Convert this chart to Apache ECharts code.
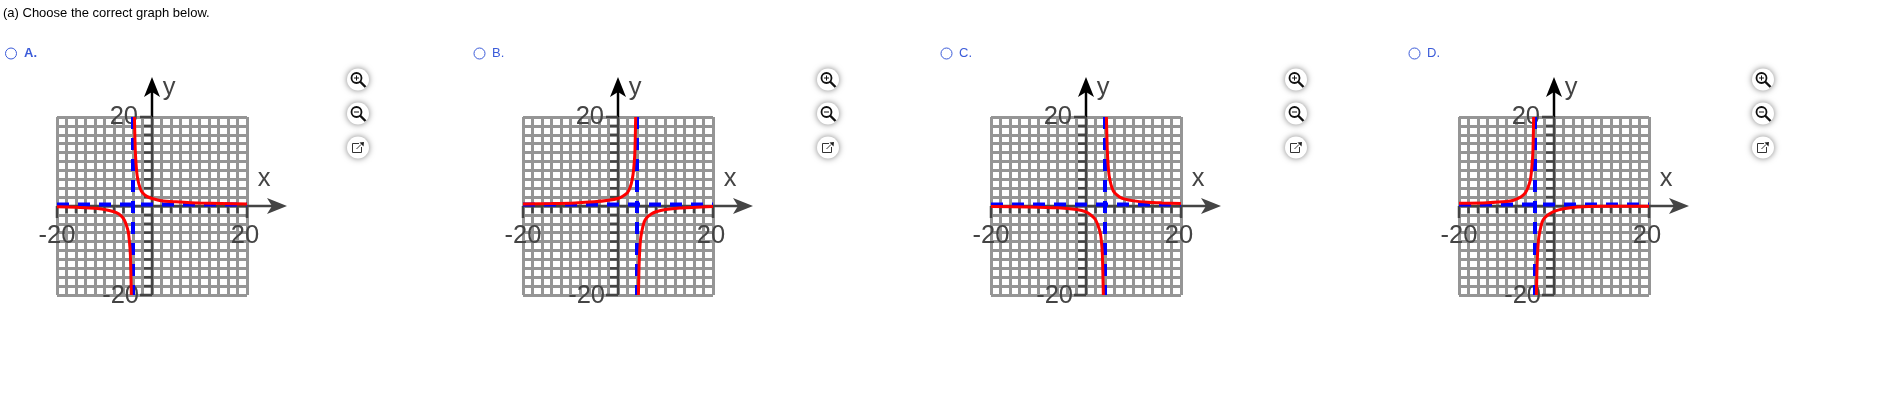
<!DOCTYPE html>
<html><head><meta charset="utf-8">
<style>html,body{margin:0;padding:0;background:#fff}#c{width:1887px;height:414px}</style>
<script src="https://cdn.jsdelivr.net/npm/echarts@6/dist/echarts.min.js"></script>
</head><body><div id="c"></div>
<script>
const promptText = '(a) Choose the correct graph below.';
const optionLabels = ['A.', 'B.', 'C.', 'D.'];
const axisLimit = 20;
const gridStep = 2;
const hAsymptote = 0.35;
const vAsymptotes = [-4, 4, 4, -4];

const curveAx = [-20,-16,-12,-9,-7.5,-6.5,-5.8,-5.3,-5,-4.75,-4.55,-4.35,null,-3.7,-3.5,-3.25,-3,-2.5,-2,-1,0,2,5,10,20];
const curveAy = [-0.15,-0.3,-0.5,-1,-1.5,-2.2,-3.2,-4.6,-5.8,-8,-11,-20,null,20,12,8,6,4,3,2.1,1.7,1.2,0.95,0.65,0.45];
const curveBx = [-20,-14,-9,-5,-2,0,1,2,2.6,3,3.3,3.55,3.72,null,4.3,4.45,4.7,5,5.5,6,7,8,10,13,20];
const curveBy = [0.45,0.55,0.7,0.95,1.3,1.7,2.2,3,4.3,6,8.3,12,20,null,-20,-13,-8,-5.8,-3.6,-2.7,-1.8,-1.3,-0.8,-0.45,-0.1];
const curveCx = [-20,-12,-6,-2,0,1,2,2.6,3,3.25,3.45,3.65,null,4.3,4.5,4.75,5,5.5,6,7,8,10,13,16,20];
const curveCy = [-0.1,-0.2,-0.4,-0.8,-1.3,-2,-3.1,-4.6,-6,-8,-11,-20,null,20,12,8,6,4,3,2.1,1.6,1.15,0.85,0.7,0.55];
const curveDx = [-20,-14,-10,-8.5,-7,-6,-5.5,-5,-4.7,-4.45,-4.28,null,-3.7,-3.55,-3.3,-3,-2.5,-2,-1,0,2,5,10,20];
const curveDy = [0.6,0.75,1,1.3,2,3,4.1,5.8,8.3,12,20,null,-20,-13,-8,-5.8,-3.6,-2.7,-1.8,-1.2,-0.6,-0.2,-0.05,-0.05];
const curves = [[curveAx,curveAy],[curveBx,curveBy],[curveCx,curveCy],[curveDx,curveDy]];

const plotLefts = [57, 523, 991, 1459];
const iconXs = [358, 828, 1296, 1763];
const radioXs = [11, 479.5, 946.5, 1414.5];
const optionTextXs = [24, 492, 959, 1427];
const plotTop = 117, plotW = 190, plotH = 178;
const axisDark = '#444', font = '"Liberation Sans", Arial, sans-serif';

const grids = [], xAxes = [], yAxes = [], series = [];
function axisCommon() {
  return { type:'value', min:-axisLimit, max:axisLimit, interval:gridStep,
    axisLine:{show:false}, axisTick:{show:false}, axisLabel:{show:false},
    splitLine:{show:true,lineStyle:{color:'#959595',width:3}}
  };
}
curves.forEach((c,i)=>{
  grids.push({left:plotLefts[i],top:plotTop,width:plotW,height:plotH,containLabel:false});
  const xa = axisCommon(); xa.gridIndex=i;
  const ya = axisCommon(); ya.gridIndex=i;
  xAxes.push(xa); yAxes.push(ya);
  series.push({type:'custom',xAxisIndex:i,yAxisIndex:i,z:4,silent:true,animation:false,data:[[0,0]],
    renderItem:(p,api)=>{
      const o=api.coord([0,0]), l=api.coord([-axisLimit,0]), r=api.coord([axisLimit,0]), t=api.coord([0,axisLimit]), b=api.coord([0,-axisLimit]);
      const tipX=r[0]+40, tipY=t[1]-40;
      const line=(x1,y1,x2,y2,c,w)=>({type:'line',shape:{x1,y1,x2,y2},style:{stroke:c,lineWidth:w||2}});
      const txt=(text,x,y,align)=>({type:'text',style:{text,x,y,align,verticalAlign:'middle',fill:axisDark,font:'25.5px '+font}});
      const kids=[
        line(l[0],o[1],tipX-14,o[1],axisDark,2.5),
        line(o[0],b[1],o[0],t[1],axisDark,2.5),
        line(o[0],t[1],o[0],tipY+14,'#000',2.5),
        line(l[0],o[1],l[0],o[1]+12,axisDark,2.5),
        line(r[0],o[1],r[0],o[1]+12,axisDark,2.5),
        line(o[0],t[1],o[0]-12,t[1],axisDark,2.5),
        line(o[0],b[1],o[0]-12,b[1],axisDark,2.5),
        {type:'polygon',shape:{points:[[tipX,o[1]],[tipX-20,o[1]-8],[tipX-15,o[1]],[tipX-20,o[1]+8]]},style:{fill:axisDark}},
        {type:'polygon',shape:{points:[[o[0],tipY],[o[0]-8,tipY+20],[o[0],tipY+15],[o[0]+8,tipY+20]]},style:{fill:'#000'}},
        txt('x',r[0]+17,o[1]-27,'center'),
        txt('y',o[0]+17,tipY+11,'center'),
        txt('-20',l[0],o[1]+30,'center'),
        txt('20',r[0]-2,o[1]+30,'center'),
        txt('20',o[0]-14,t[1],'right'),
        txt('-20',o[0]-13,b[1]+1,'right')
      ];
      for(let v=-axisLimit+gridStep;v<axisLimit;v+=gridStep){
        if(v===0) continue;
        const px=api.coord([v,0])[0], py=api.coord([0,v])[1];
        kids.push(line(px,o[1],px,o[1]+7,axisDark,2.5));
        kids.push(line(o[0],py,o[0]-8,py,axisDark,2.5));
      }
      return {type:'group',children:kids};
    }});
  series.push({type:'line',xAxisIndex:i,yAxisIndex:i,z:5,showSymbol:false,silent:true,animation:false,
    data:[[-axisLimit,hAsymptote],[axisLimit,hAsymptote]],lineStyle:{color:'#0000ff',width:4,type:[12,9]}});
  series.push({type:'line',xAxisIndex:i,yAxisIndex:i,z:5,showSymbol:false,silent:true,animation:false,
    data:[[vAsymptotes[i],axisLimit],[vAsymptotes[i],-axisLimit]],lineStyle:{color:'#0000ff',width:4,type:[12,9]}});
  series.push({type:'line',xAxisIndex:i,yAxisIndex:i,z:6,showSymbol:false,silent:true,animation:false,smooth:0.25,
    connectNulls:false,data:c[0].map((x,k)=>x===null?[null,null]:[x,c[1][k]]),lineStyle:{color:'#ff0000',width:3}});
});

const graphic=[{type:'text',left:3,top:7,style:{text:promptText,fill:'#000',font:'13px '+font}}];
const blue='#3b5bd9';
optionLabels.forEach((t,i)=>{
  graphic.push({type:'circle',shape:{cx:radioXs[i],cy:53.5,r:5.5},style:{fill:'#fff',stroke:blue,lineWidth:1}});
  graphic.push({type:'text',x:optionTextXs[i],y:53.5,style:{text:t,fill:blue,align:'left',verticalAlign:'middle',font:(i===0?'bold ':'')+'13px '+font}});
  const ix=iconXs[i];
  [79.5,113.5,147.5].forEach(cy=>{
    graphic.push({type:'circle',shape:{cx:ix,cy,r:11},style:{fill:'#fff',shadowBlur:6,shadowColor:'rgba(0,0,0,.5)'}});
  });
  const ink='#111';
  [[78,true],[112,false]].forEach(([cy,plus])=>{
    graphic.push({type:'circle',shape:{cx:ix-1.5,cy,r:5},style:{fill:'none',stroke:ink,lineWidth:1.8}});
    graphic.push({type:'line',shape:{x1:ix+2,y1:cy+3.5,x2:ix+7.5,y2:cy+9},style:{stroke:ink,lineWidth:2.4}});
    graphic.push({type:'line',shape:{x1:ix-4,y1:cy,x2:ix+1,y2:cy},style:{stroke:ink,lineWidth:1}});
    if(plus) graphic.push({type:'line',shape:{x1:ix-1.5,y1:cy-2.5,x2:ix-1.5,y2:cy+2.5},style:{stroke:ink,lineWidth:1}});
  });
  graphic.push({type:'polyline',shape:{points:[[ix+1,143.5],[ix-5.5,143.5],[ix-5.5,152.5],[ix+3.5,152.5],[ix+3.5,147]]},style:{fill:'none',stroke:'#333',lineWidth:1}});
  graphic.push({type:'line',shape:{x1:ix-1.5,y1:149,x2:ix+3,y2:144.5},style:{stroke:'#333',lineWidth:1}});
  graphic.push({type:'polygon',shape:{points:[[ix+6,142],[ix+1.5,142.5],[ix+5.5,146.5]]},style:{fill:'#222'}});
});

const chart=echarts.init(document.getElementById('c'),null,{renderer:'canvas'});
chart.setOption({animation:false,backgroundColor:'#fff',tooltip:{show:false},grid:grids,xAxis:xAxes,yAxis:yAxes,series,graphic});
</script></body></html>
